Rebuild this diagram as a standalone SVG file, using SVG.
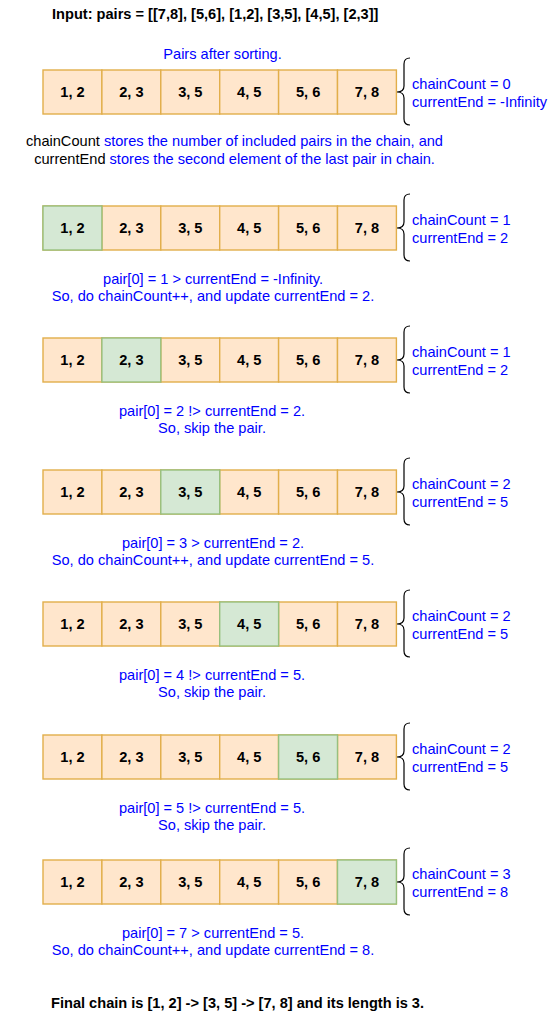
<svg xmlns="http://www.w3.org/2000/svg" width="559" height="1019" viewBox="0 0 559 1019">
<style>
.c{fill:#ffe6cc;stroke:#e2ae4a;stroke-width:1.4}
.g{fill:#d5e8d4;stroke:#97c07e;stroke-width:1.4}
.cl{font-family:"Liberation Sans",Arial,sans-serif;font-size:14.6px;font-weight:bold;fill:#000;text-anchor:middle}
.t{font-family:"Liberation Sans",Arial,sans-serif;font-size:14.6px;fill:#0000ff}
.m{text-anchor:middle}
.k{fill:#000}
.b{font-family:"Liberation Sans",Arial,sans-serif;font-size:14.6px;font-weight:bold;fill:#000}
.br{fill:none;stroke:#000;stroke-width:1.2}
</style>
<defs>
<path id="brace" class="br" d="M410,-34 Q404,-34 404,-28 L404,-6 Q404,0 397,0 Q404,0 404,6 L404,27 Q404,33 410,33"/>
<g id="cells">
<rect class="c" x="43" y="0" width="58.9" height="44"/>
<rect class="c" x="101.9" y="0" width="58.9" height="44"/>
<rect class="c" x="160.8" y="0" width="58.9" height="44"/>
<rect class="c" x="219.7" y="0" width="58.9" height="44"/>
<rect class="c" x="278.6" y="0" width="58.9" height="44"/>
<rect class="c" x="337.5" y="0" width="58.9" height="44"/>
</g>
<g id="labels">
<text class="cl" x="72.5" y="27">1, 2</text>
<text class="cl" x="131.4" y="27">2, 3</text>
<text class="cl" x="190.3" y="27">3, 5</text>
<text class="cl" x="249.2" y="27">4, 5</text>
<text class="cl" x="308.1" y="27">5, 6</text>
<text class="cl" x="367" y="27">7, 8</text>
</g>
</defs>

<g id="title"><text class="b" x="52" y="19">Input: pairs = [[7,8], [5,6], [1,2], [3,5], [4,5], [2,3]]</text></g>
<g id="sorted-label"><text class="t m" x="222.5" y="59">Pairs after sorting.</text></g>

<g id="row1" transform="translate(0,70)">
<use href="#cells"/><use href="#labels"/>
<use href="#brace" transform="translate(0,22)"/>
<text class="t" x="412" y="19">chainCount = 0</text>
<text class="t" x="412" y="36.5">currentEnd = -Infinity</text>
</g>
<g id="explain"><text class="t m" x="234.5" y="146"><tspan class="k">chainCount</tspan> stores the number of included pairs in the chain, and</text>
<text class="t m" x="234.5" y="163.5"><tspan class="k">currentEnd</tspan> stores the second element of the last pair in chain.</text></g>

<g id="row2" transform="translate(0,206)">
<use href="#cells"/><rect class="g" x="43" y="0" width="58.9" height="44"/><use href="#labels"/>
<use href="#brace" transform="translate(0,22)"/>
<text class="t" x="412" y="19">chainCount = 1</text>
<text class="t" x="412" y="36.5">currentEnd = 2</text>
<text class="t m" x="213" y="78">pair[0] = 1 &gt; currentEnd = -Infinity.</text>
<text class="t m" x="213" y="95">So, do chainCount++, and update currentEnd = 2.</text>
</g>

<g id="row3" transform="translate(0,338)">
<use href="#cells"/><rect class="g" x="101.9" y="0" width="58.9" height="44"/><use href="#labels"/>
<use href="#brace" transform="translate(0,22)"/>
<text class="t" x="412" y="19">chainCount = 1</text>
<text class="t" x="412" y="36.5">currentEnd = 2</text>
<text class="t m" x="212" y="78">pair[0] = 2 !&gt; currentEnd = 2.</text>
<text class="t m" x="212" y="95">So, skip the pair.</text>
</g>

<g id="row4" transform="translate(0,470)">
<use href="#cells"/><rect class="g" x="160.8" y="0" width="58.9" height="44"/><use href="#labels"/>
<use href="#brace" transform="translate(0,22)"/>
<text class="t" x="412" y="19">chainCount = 2</text>
<text class="t" x="412" y="36.5">currentEnd = 5</text>
<text class="t m" x="213" y="78">pair[0] = 3 &gt; currentEnd = 2.</text>
<text class="t m" x="213" y="95">So, do chainCount++, and update currentEnd = 5.</text>
</g>

<g id="row5" transform="translate(0,602)">
<use href="#cells"/><rect class="g" x="219.7" y="0" width="58.9" height="44"/><use href="#labels"/>
<use href="#brace" transform="translate(0,22)"/>
<text class="t" x="412" y="19">chainCount = 2</text>
<text class="t" x="412" y="36.5">currentEnd = 5</text>
<text class="t m" x="212" y="78">pair[0] = 4 !&gt; currentEnd = 5.</text>
<text class="t m" x="212" y="95">So, skip the pair.</text>
</g>

<g id="row6" transform="translate(0,735)">
<use href="#cells"/><rect class="g" x="278.6" y="0" width="58.9" height="44"/><use href="#labels"/>
<use href="#brace" transform="translate(0,22)"/>
<text class="t" x="412" y="19">chainCount = 2</text>
<text class="t" x="412" y="36.5">currentEnd = 5</text>
<text class="t m" x="212" y="78">pair[0] = 5 !&gt; currentEnd = 5.</text>
<text class="t m" x="212" y="95">So, skip the pair.</text>
</g>

<g id="row7" transform="translate(0,860)">
<use href="#cells"/><rect class="g" x="337.5" y="0" width="58.9" height="44"/><use href="#labels"/>
<use href="#brace" transform="translate(0,22)"/>
<text class="t" x="412" y="19">chainCount = 3</text>
<text class="t" x="412" y="36.5">currentEnd = 8</text>
<text class="t m" x="213" y="78">pair[0] = 7 &gt; currentEnd = 5.</text>
<text class="t m" x="213" y="95">So, do chainCount++, and update currentEnd = 8.</text>
</g>

<g id="final"><text class="b" x="51" y="1008">Final chain is [1, 2] -&gt; [3, 5] -&gt; [7, 8] and its length is 3.</text></g>
<g id="connectors"/>
</svg>
